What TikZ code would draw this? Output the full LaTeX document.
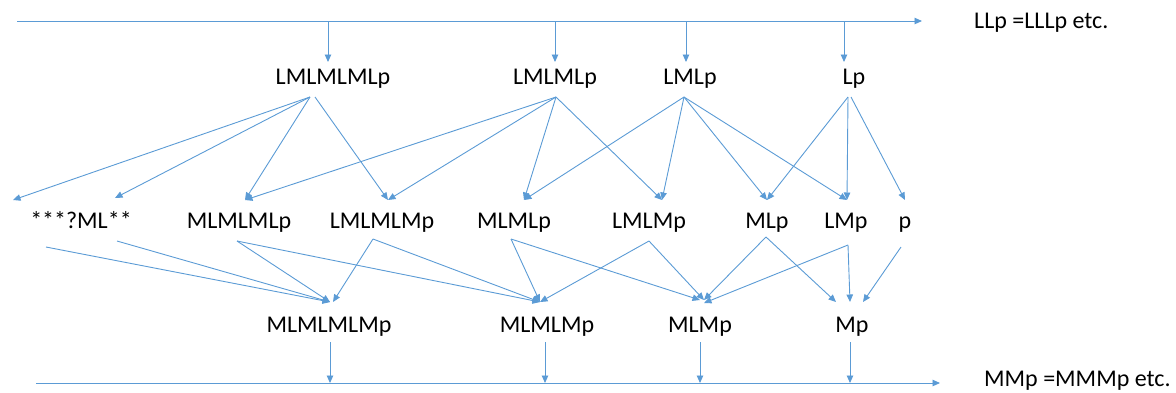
\documentclass[tikz,border=0pt]{standalone}
\usepackage{fontspec}
\setmainfont{Carlito}
\usetikzlibrary{arrows.meta,calc}
\definecolor{edgeblue}{HTML}{5B9BD5}
\begin{document}
\begin{tikzpicture}[x=1pt,y=-1pt,
  lab/.style={anchor=base,inner sep=0pt,font=\fontsize{24}{28}\selectfont},
  arr/.style={draw=edgeblue,line width=0.9pt,-{Triangle[length=7.5pt,width=6.5pt]}},
  ln/.style={draw=edgeblue,line width=0.9pt}]
\useasboundingbox (0,0) rectangle (1176,392);
% axes
\coordinate (TL) at (17,21);
\coordinate (TR) at (922,21);
\coordinate (BL) at (36,383);
\coordinate (BR) at (940,383);
\coordinate (d1) at (328,21);
\coordinate (d2) at (555,21);
\coordinate (d3) at (686,21);
\coordinate (d4) at (844,21);
\coordinate (e1) at (330,383);
\coordinate (e2) at (545,383);
\coordinate (e3) at (700,383);
\coordinate (e4) at (850,383);
\draw[arr] (TL) -- (TR);
\draw[arr] (BL) -- (BR);
\node[lab,anchor=base west] (ll) at (974,28) {LLp =LLLp etc.};
\node[lab,anchor=base west] (mm) at (984,386) {MMp =MMMp etc.};
% nodes
\node[lab] (t1) at (333,84) {LMLMLMLp};
\node[lab] (t2) at (555,84) {LMLMLp};
\node[lab] (t3) at (690,84) {LMLp};
\node[lab] (t4) at (854,84) {Lp};
\node[lab] (m1) at (81,228) {***?ML**};
\node[lab] (m2) at (239,228) {MLMLMLp};
\node[lab] (m3) at (382,228) {LMLMLMp};
\node[lab] (m4) at (514,228) {MLMLp};
\node[lab] (m5) at (649,228) {LMLMp};
\node[lab] (m6) at (767,228) {MLp};
\node[lab] (m7) at (846,228) {LMp};
\node[lab] (m8) at (905,228) {p};
\node[lab] (b1) at (329,332) {MLMLMLMp};
\node[lab] (b2) at (547,332) {MLMLMp};
\node[lab] (b3) at (700,332) {MLMp};
\node[lab] (b4) at (852,332) {Mp};
% top drops
\draw[arr] (d1) -- ($(t1.base)+(-5,-22)$);
\draw[arr] (d2) -- ($(t2.base)+(0,-22)$);
\draw[arr] (d3) -- ($(t3.base)+(-4,-22)$);
\draw[arr] (d4) -- ($(t4.base)+(-10,-22)$);
% top -> middle
\draw[arr] ($(t1.base)+(-23,13)$) -- ($(m1.base)+(-68,-28)$);
\draw[arr] ($(t1.base)+(-23,13)$) -- ($(m1.base)+(34,-30)$);
\draw[arr] ($(t1.base)+(-23,13)$) -- ($(m2.base)+(6,-28)$);
\draw[arr] ($(t1.base)+(-18,13)$) -- ($(m3.base)+(6,-28)$);
\draw[arr] ($(t2.base)+(1,13)$) -- ($(m2.base)+(6,-28)$);
\draw[arr] ($(t2.base)+(1,13)$) -- ($(m3.base)+(6,-28)$);
\draw[arr] ($(t2.base)+(1,13)$) -- ($(m4.base)+(10,-28)$);
\draw[arr] ($(t2.base)+(1,13)$) -- ($(m5.base)+(13,-28)$);
\draw[arr] ($(t3.base)+(-6,13)$) -- ($(m4.base)+(10,-28)$);
\draw[arr] ($(t3.base)+(-6,13)$) -- ($(m5.base)+(13,-28)$);
\draw[arr] ($(t3.base)+(-6,13)$) -- ($(m6.base)+(0,-28)$);
\draw[arr] ($(t3.base)+(-6,13)$) -- ($(m7.base)+(1,-28)$);
\draw[arr] ($(t4.base)+(-6,13)$) -- ($(m6.base)+(0,-28)$);
\draw[arr] ($(t4.base)+(-6,13)$) -- ($(m7.base)+(1,-28)$);
\draw[arr] ($(t4.base)+(-3,13)$) -- ($(m8.base)+(0,-28)$);
% middle -> bottom
\draw[arr] ($(m1.base)+(-35,19)$) -- ($(b1.base)+(1,-30)$);
\draw[arr] ($(m1.base)+(36,13)$) -- ($(b1.base)+(1,-30)$);
\draw[arr] ($(m2.base)+(-2,13)$) -- ($(b1.base)+(1,-30)$);
\draw[arr] ($(m2.base)+(-2,13)$) -- ($(b2.base)+(-7,-30)$);
\draw[arr] ($(m3.base)+(-9,11)$) -- ($(b1.base)+(4,-30)$);
\draw[arr] ($(m3.base)+(-9,11)$) -- ($(b2.base)+(-7,-30)$);
\draw[arr] ($(m4.base)+(-3,11)$) -- ($(b2.base)+(-7,-30)$);
\draw[arr] ($(m4.base)+(-3,11)$) -- ($(b3.base)+(0,-32)$);
\draw[arr] ($(m5.base)+(0,13)$) -- ($(b2.base)+(-7,-30)$);
\draw[arr] ($(m5.base)+(0,13)$) -- ($(b3.base)+(4,-32)$);
\draw[arr] ($(m6.base)+(-1,9)$) -- ($(b3.base)+(4,-32)$);
\draw[arr] ($(m6.base)+(-1,9)$) -- ($(b4.base)+(-16,-30)$);
\draw[arr] ($(m7.base)+(2,17)$) -- ($(b3.base)+(4,-29)$);
\draw[arr] ($(m7.base)+(2,17)$) -- ($(b4.base)+(-2,-30)$);
\draw[arr] ($(m8.base)+(-4,19)$) -- ($(b4.base)+(11,-30)$);
% bottom drops
\draw[arr] ($(b1.base)+(1,10)$) -- (e1);
\draw[arr] ($(b2.base)+(-2,10)$) -- (e2);
\draw[arr] ($(b3.base)+(0,10)$) -- (e3);
\draw[arr] ($(b4.base)+(-2,10)$) -- (e4);
\end{tikzpicture}
\end{document}
